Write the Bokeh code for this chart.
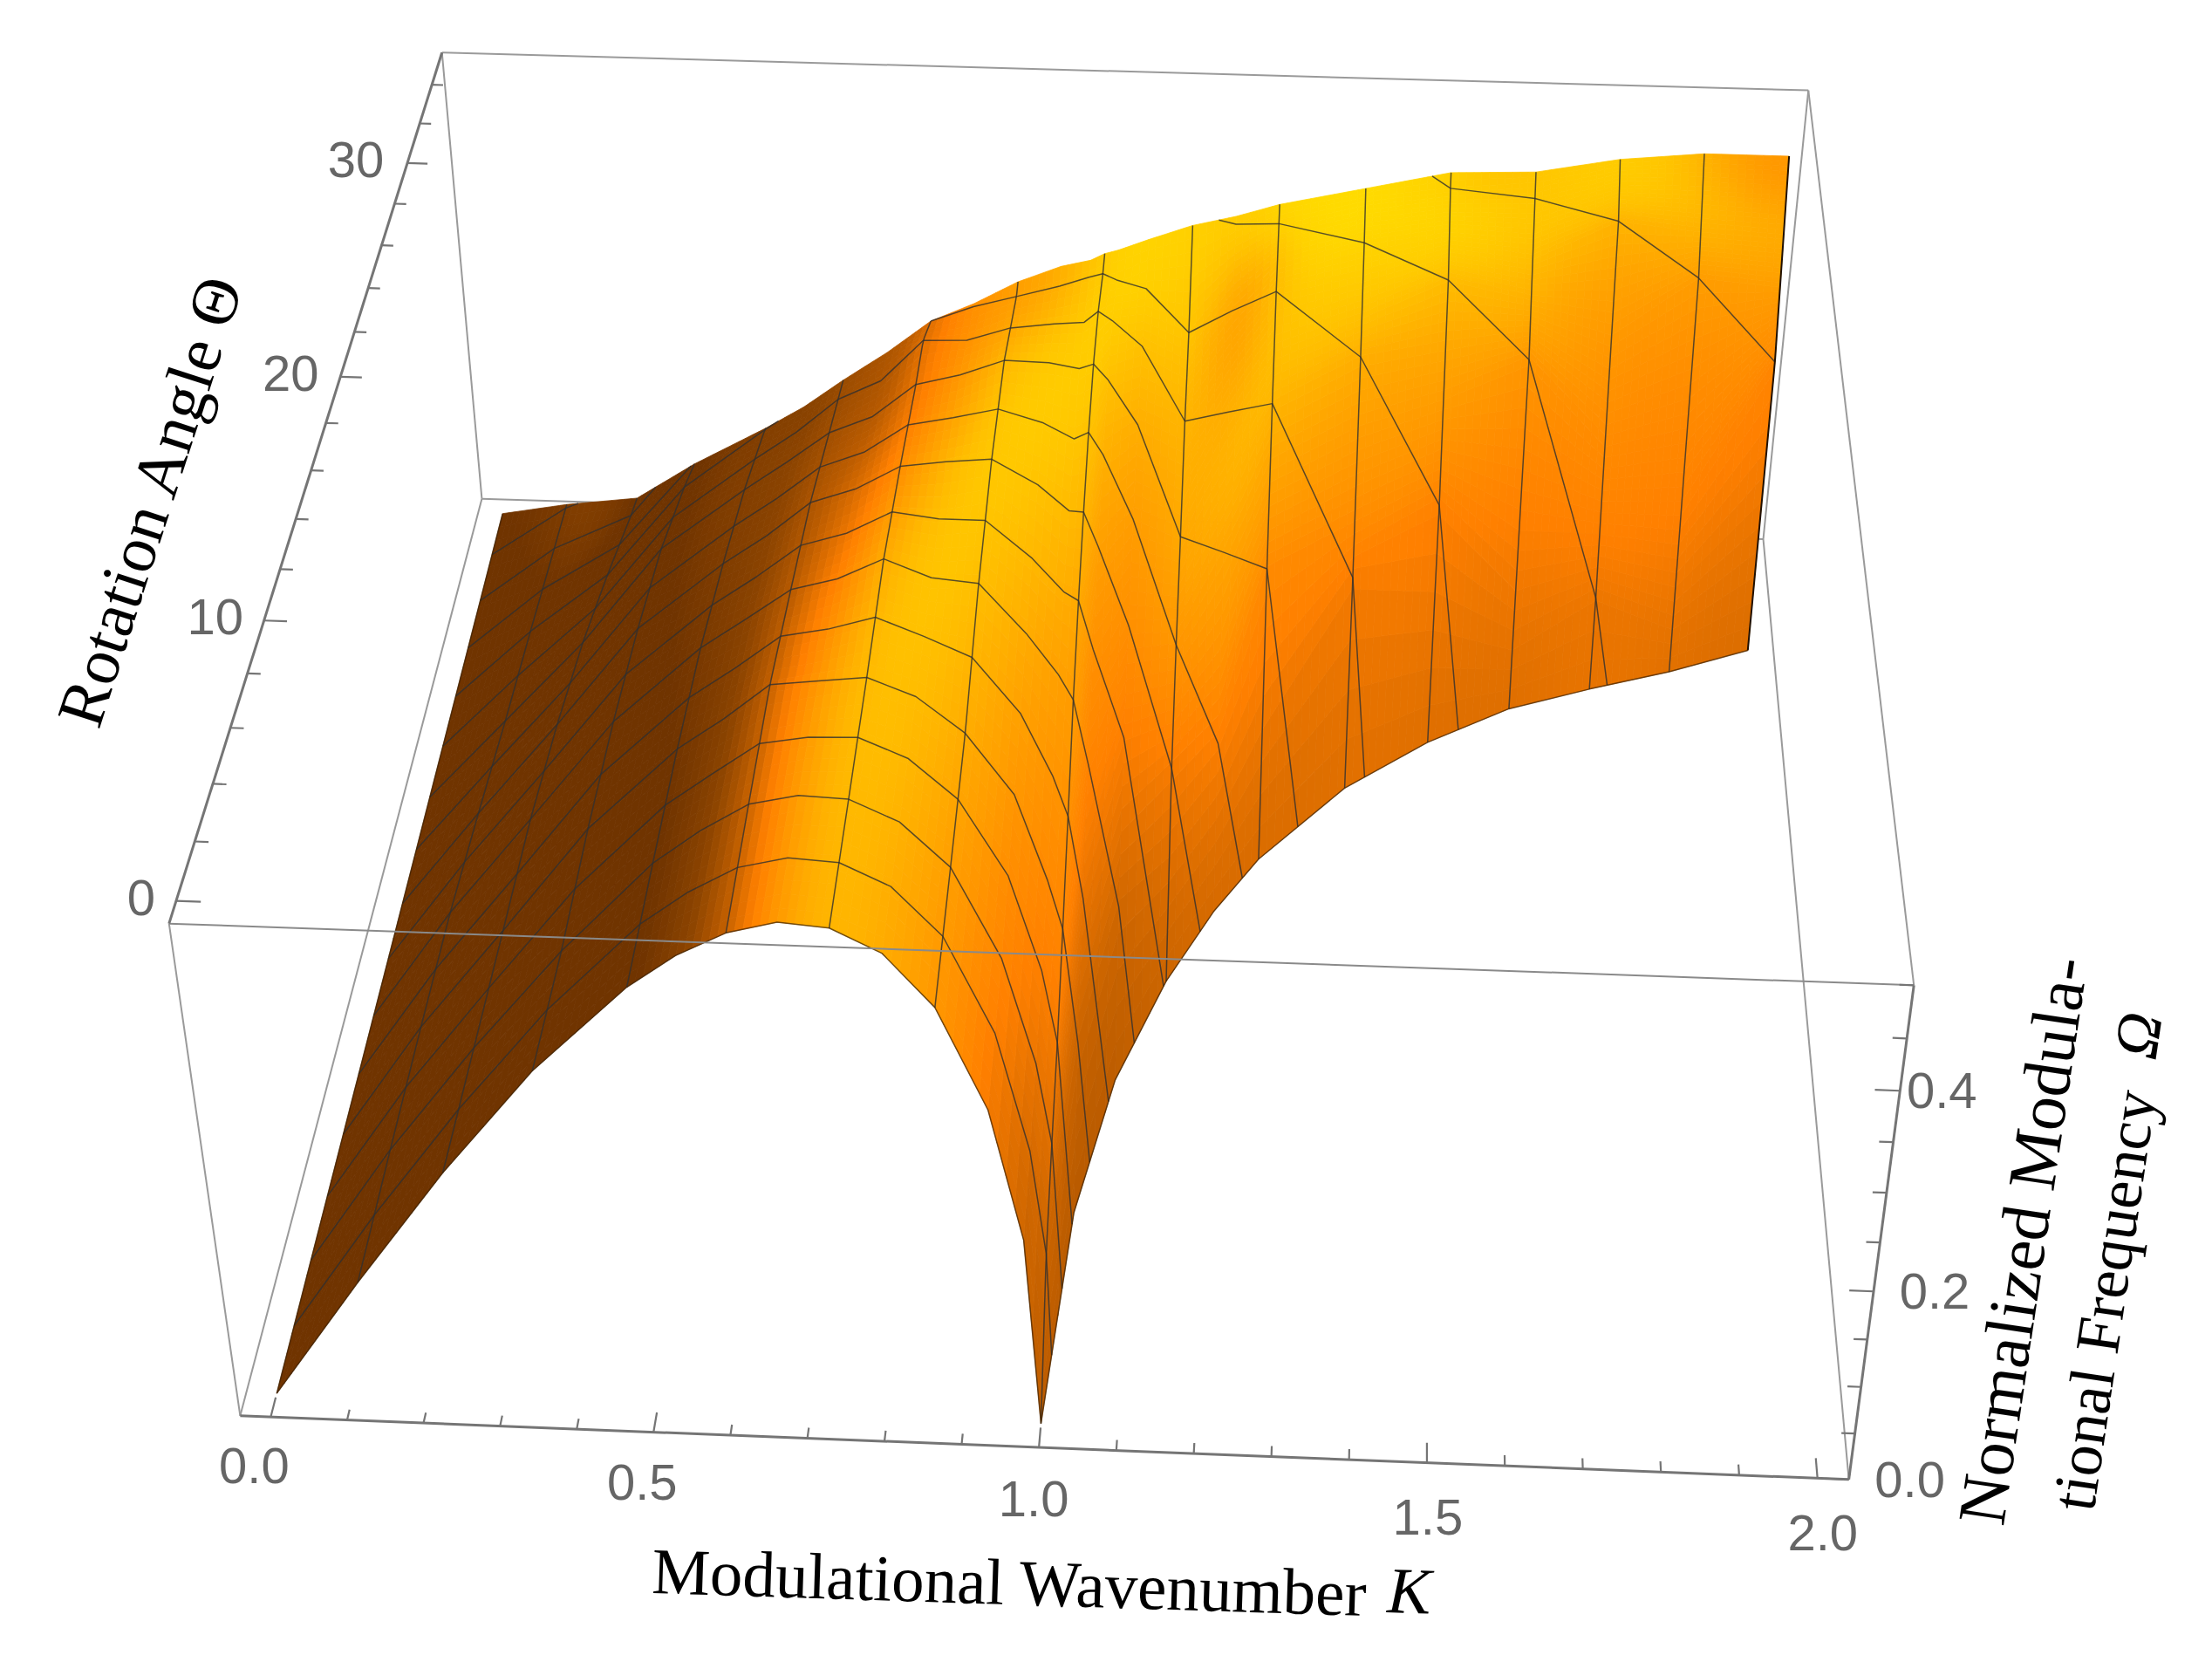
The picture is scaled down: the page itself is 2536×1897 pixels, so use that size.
from bokeh.plotting import figure
from bokeh.embed import file_html
from bokeh.resources import INLINE
from bokeh.core.properties import value
import numpy as np
import math

# surface: normalized frequency for each wavenumber and rotation angle
K_NODES = [0, 0.125, 0.25, 0.375, 0.5, 0.5625, 0.625, 0.6875, 0.75, 0.8125, 0.875, 0.9375, 0.98, 1.0,
           1.02, 1.0625, 1.125, 1.1875, 1.25, 1.375, 1.5, 1.625, 1.75, 1.875, 2.0]
THETA_LOW = [0, 0, 0, 0, 0, 0, 0, 0, 0, 0, 0, 0, 0, 0,
             7.0, 11.8, 15.6, 18.4, 20.6, 23.7, 25.8, 27.4, 28.4, 29.3, 30.4]
THETA_TOP = [35.0, 33.2, 32.0, 28.4, 26.6, 26.0, 25.5, 26.0, 26.4, 26.6, 27.0, 27.1, 27.2, 27.3,
             27.4, 27.8, 28.3, 28.8, 29.2, 30.1, 31.0, 31.15, 31.9, 32.3, 32.3]
OMEGA_LOW = [0, 0.124, 0.242, 0.348, 0.433, 0.465, 0.488, 0.4998, 0.496, 0.474, 0.424, 0.326, 0.195, 0,
             0, 0, 0, 0, 0, 0, 0, 0, 0, 0, 0]
OMEGA_TOP = [0, 0.057, 0.096, 0.223, 0.307, 0.345, 0.386, 0.405, 0.43, 0.445, 0.46, 0.475, 0.48, 0.485,
             0.487, 0.49, 0.495, 0.495, 0.5, 0.5, 0.5, 0.5, 0.5, 0.5, 0.5]
THETA_LEVELS = [2.2, 4.4, 6.6, 8.8, 11.0, 13.2, 15.4, 17.6, 19.8, 22.0, 24.2, 26.4, 28.6, 30.8, 33.0]
_ = None
OMEGA_GRID = [
    [_, 0, _, 0, _, 0, _, 0, _, 0, _, 0, _, 0, _],
    [_, .124, _, .122, _, .118, _, .105, _, .09, _, .078, _, .064, _],
    [_, .235, _, .228, _, .222, _, .205, _, .18, _, .145, _, .105, _],
    [_, .337, _, .336, _, .327, _, .31, _, .285, _, .245, _, _, _],
    [_, .427, _, .419, _, .405, _, .38, _, .35, _, .31, _, _, _],
    [_, .46, _, .45, _, .435, _, .41, _, .38, .36, _, _, _, _],
    [_, .487, _, .485, _, .466, _, .445, _, .412, _, _, _, _, _],
    [_, .497, _, .49, _, .478, _, .46, _, .43, _, _, _, _, _],
    [_, .495, _, .495, _, .499, _, .484, _, .464, .459, _, _, _, _],
    [_, .475, _, .478, _, .482, _, .49, _, .475, _, _, _, _, _],
    [_, .433, _, .444, _, .478, _, .494, _, .491, _, .458, _, _, _],
    [_, .345, _, .385, _, .43, _, .47, _, .49, _, .47, _, _, _],
    [_, .24, _, .30, _, .39, _, .445, _, .485, _, .48, _, _, _],
    [.11, .157, .196, .25, .305, .365, .409, .444, .472, .49, .494, .484, _, _, _],
    [_, _, _, .13, .22, .30, .36, .41, .45, .475, .485, .478, _, _, _],
    [_, _, _, _, _, .15, .27, .33, .385, .43, .46, .47, _, _, _],
    [_, _, _, _, _, _, _, .18, .255, .315, .384, .426, _, _, _],
    [_, _, _, _, _, _, _, _, .15, .30, .395, .45, _, _, _],
    [_, _, _, _, _, _, _, _, _, .284, .405, .471, .493, _, _],
    [_, _, _, _, _, _, _, _, _, _, .223, .406, .476, _, _],
    [_, _, _, _, _, _, _, _, _, _, _, .251, .44, .488, _],
    [_, _, _, _, _, _, _, _, _, _, _, _, .359, .48, _],
    [_, _, _, _, _, _, _, _, _, _, _, _, .10, .459, _],
    [_, _, _, _, _, _, _, _, _, _, _, _, _, .402, _],
    [_, _, _, _, _, _, _, _, _, _, _, _, _, .315, _],
]

K_RANGE = (-0.04, 2.04)
OMEGA_RANGE = (0.0, 0.5)
THETA_RANGE = (-0.75, 35.7)
K_LABELS = ["0.0", "0.5", "1.0", "1.5", "2.0"]
OMEGA_LABELS = ["0.0", "0.2", "0.4"]
THETA_LABELS = ["0", "10", "20", "30"]

# where the box sits in the picture, used to solve the perspective camera
CAM_WORLD = [(K_RANGE[a], OMEGA_RANGE[b], THETA_RANGE[c]) for a, b, c in
             [(0, 0, 0), (1, 0, 0), (1, 1, 0), (0, 1, 0), (0, 0, 1), (1, 0, 1), (1, 1, 1), (0, 1, 1)]]
CAM_WORLD += [(K_RANGE[0], 0.5, 0), (K_RANGE[0], 0.5, 10), (K_RANGE[0], 0.5, 20), (K_RANGE[0], 0.5, 30),
              (0.5, 0, THETA_RANGE[0]), (1.0, 0, THETA_RANGE[0]), (1.5, 0, THETA_RANGE[0]),
              (K_RANGE[1], 0.2, THETA_RANGE[0]), (K_RANGE[1], 0.4, THETA_RANGE[0])]
CAM_PIXEL = [(274, 1622), (2119, 1696), (2194, 1129), (194, 1057), (552, 571), (2021, 617), (2073, 103), (506, 60),
             (201, 1032), (302, 710), (389, 432), (467, 187),
             (750, 1643), (1192, 1658), (1634, 1675), (2147, 1480), (2178, 1250)]


def solve_camera():
    rows = []
    for (k, o, t), (x, y) in zip(CAM_WORLD, CAM_PIXEL):
        w = [k, o * 4, t / 18, 1]
        x, y = x / 1000, y / 1000
        rows.append(w + [0, 0, 0, 0] + [-x * c for c in w])
        rows.append([0, 0, 0, 0] + w + [-y * c for c in w])
    m = np.linalg.svd(np.array(rows))[2][-1].reshape(3, 4)
    m[:2] *= 1000
    m[:, 1] *= 4
    m[:, 2] /= 18
    return m


CAM = solve_camera()


def project(k, o, t):
    k, o, t = np.asarray(k, float), np.asarray(o, float), np.asarray(t, float)
    h = [CAM[i, 0] * k + CAM[i, 1] * o + CAM[i, 2] * t + CAM[i, 3] for i in range(3)]
    return h[0] / h[2], h[1] / h[2], np.abs(h[2])


def column(i):
    ts = [THETA_LOW[i]]
    os_ = [OMEGA_LOW[i]]
    for lev, val in zip(THETA_LEVELS, OMEGA_GRID[i]):
        if val is not None and THETA_LOW[i] < lev < THETA_TOP[i]:
            ts.append(lev)
            os_.append(val)
    ts.append(THETA_TOP[i])
    os_.append(OMEGA_TOP[i])
    return np.array(ts), np.array(os_)


COLS = [column(i) for i in range(len(K_NODES))]
S = np.linspace(0, 1, 55)

# fine grid for the shading
Kf, Tf, Of = [], [], []
for i in range(len(K_NODES) - 1):
    n = max(2, int(math.ceil((K_NODES[i + 1] - K_NODES[i]) / 0.012)))
    ta = THETA_LOW[i] + S * (THETA_TOP[i] - THETA_LOW[i])
    tb = THETA_LOW[i + 1] + S * (THETA_TOP[i + 1] - THETA_LOW[i + 1])
    oa = np.interp(ta, *COLS[i])
    ob = np.interp(tb, *COLS[i + 1])
    for f in np.linspace(0, 1, n, endpoint=(i == len(K_NODES) - 2)):
        Kf.append(np.full_like(S, K_NODES[i] + f * (K_NODES[i + 1] - K_NODES[i])))
        Tf.append(ta + f * (tb - ta))
        Of.append(oa + f * (ob - oa))
Kf, Tf, Of = np.array(Kf), np.array(Tf), np.array(Of)


def smooth(t, passes):
    for _i in range(passes):
        e = np.pad(t, 1, mode="edge")
        t = (e[:-2, 1:-1] + e[2:, 1:-1] + e[1:-1, :-2] + e[1:-1, 2:] + 4 * t) / 8
    return t


def shade():
    W = (Tf - THETA_RANGE[0]) / 36.45
    V = Of / 0.5
    P = np.stack([(Kf - K_RANGE[0]) / 2.08, V * 0.25, W], axis=-1)
    n = np.cross(np.gradient(P, axis=0), np.gradient(P, axis=1))
    n /= np.linalg.norm(n, axis=-1, keepdims=True) + 1e-12
    n *= np.where(n[..., 1:2] < 0, -1, 1)
    nu, nv = smooth(n[..., 0], 80), smooth(n[..., 1], 80)
    dark_side = 0.75 * nv + 1.2 * np.minimum(nu, 0) + 0.35 * (V - 0.6) + 0.25 * (W - 0.6)
    lit_side = 0.42 + 0.45 * nv + 0.15 * (V - 0.6) + 0.2 * (W - 0.6)
    b = np.clip(nu / 0.15, 0, 1)
    return smooth(dark_side * (1 - b) + lit_side * b, 30)


RAMP_T = [0.0, 0.2, 0.36, 0.52, 0.72, 0.88, 1.0]
RAMP_R = [0x70, 0x8c, 0xbb, 0xff, 0xff, 0xff, 0xff]
RAMP_G = [0x34, 0x44, 0x5c, 0x80, 0xa8, 0xcc, 0xe8]
RAMP_B = [0, 0, 0, 0, 0, 0, 0]

T = shade()
X, Y, D = project(Kf, Of, Tf)
xs, ys, cols, depth = [], [], [], []
for i in range(X.shape[0] - 1):
    for j in range(X.shape[1] - 1):
        xs.append([X[i, j], X[i + 1, j], X[i + 1, j + 1], X[i, j + 1]])
        ys.append([Y[i, j], Y[i + 1, j], Y[i + 1, j + 1], Y[i, j + 1]])
        c = (T[i, j] + T[i + 1, j] + T[i + 1, j + 1] + T[i, j + 1]) / 4
        cols.append("#%02x%02x%02x" % (int(np.interp(c, RAMP_T, RAMP_R)), int(np.interp(c, RAMP_T, RAMP_G)),
                                       int(np.interp(c, RAMP_T, RAMP_B))))
        depth.append(D[i, j])
order = np.argsort(depth)[::-1]
xs = [xs[i] for i in order]
ys = [ys[i] for i in order]
cols = [cols[i] for i in order]

p = figure(width=2520, height=1881, x_range=(0, 2520), y_range=(1881, 0), output_backend="svg",
           toolbar_location=None, min_border=0)
p.axis.visible = False
p.grid.visible = False
p.outline_line_color = None

k0, k1 = K_RANGE
o0, o1 = OMEGA_RANGE
t0, t1 = THETA_RANGE


def edge(a, b, color, width):
    x, y, _d = project([a[0], b[0]], [a[1], b[1]], [a[2], b[2]])
    p.line(list(x), list(y), line_color=color, line_width=width)


# box edges behind the surface
BOX = "#9a9a9a"
for a, b in [((k0, o0, t0), (k0, o0, t1)), ((k1, o0, t0), (k1, o0, t1)), ((k0, o0, t1), (k1, o0, t1)),
             ((k0, o0, t1), (k0, o1, t1)), ((k1, o0, t1), (k1, o1, t1)), ((k0, o1, t1), (k1, o1, t1)),
             ((k1, o1, t0), (k1, o1, t1)), ((k0, o0, t0), (k0, o1, t0))]:
    edge(a, b, BOX, 2)

p.patches(xs, ys, fill_color=cols, line_color=cols, line_width=0.8)

# mesh lines: constant K
mx, my = [], []
for i, k in enumerate(K_NODES):
    if 0 < k < 2 and abs(k / 0.125 - round(k / 0.125)) < 1e-9:
        ts = THETA_LOW[i] + S * (THETA_TOP[i] - THETA_LOW[i])
        x, y, _d = project(np.full_like(ts, k), np.interp(ts, *COLS[i]), ts)
        mx.append(list(x))
        my.append(list(y))

# mesh lines: constant Theta
for lev in THETA_LEVELS:
    seg = []
    for i in range(len(K_NODES) - 1):
        in_a = THETA_LOW[i] <= lev <= THETA_TOP[i]
        in_b = THETA_LOW[i + 1] <= lev <= THETA_TOP[i + 1]
        if in_a:
            seg.append((K_NODES[i], np.interp(lev, *COLS[i])))
        if in_a != in_b:
            for ea, eb, oa, ob in [(THETA_LOW[i], THETA_LOW[i + 1], OMEGA_LOW[i], OMEGA_LOW[i + 1]),
                                   (THETA_TOP[i], THETA_TOP[i + 1], OMEGA_TOP[i], OMEGA_TOP[i + 1])]:
                if (ea - lev) * (eb - lev) < 0:
                    f = (lev - ea) / (eb - ea)
                    seg.append((K_NODES[i] + f * (K_NODES[i + 1] - K_NODES[i]), oa + f * (ob - oa)))
            if in_a:
                x, y, _d = project([s[0] for s in seg], [s[1] for s in seg], [lev] * len(seg))
                mx.append(list(x))
                my.append(list(y))
                seg = []
    if THETA_LOW[-1] <= lev <= THETA_TOP[-1]:
        seg.append((K_NODES[-1], np.interp(lev, *COLS[-1])))
    if len(seg) > 1:
        x, y, _d = project([s[0] for s in seg], [s[1] for s in seg], [lev] * len(seg))
        mx.append(list(x))
        my.append(list(y))
p.multi_line(mx, my, line_color="#2f2f2f", line_width=1.5, line_alpha=0.8)

# surface outline
bx, by, _d = project(K_NODES, OMEGA_LOW, THETA_LOW)
p.line(list(bx), list(by), line_color="#3a2000", line_width=1.5, line_alpha=0.7)
rt = THETA_LOW[-1] + S * (THETA_TOP[-1] - THETA_LOW[-1])
rx, ry, _d = project(np.full_like(rt, K_NODES[-1]), np.interp(rt, *COLS[-1]), rt)
p.line(list(rx), list(ry), line_color="#201000", line_width=2)
lt = THETA_LOW[0] + S * (THETA_TOP[0] - THETA_LOW[0])
lx, ly, _d = project(np.full_like(lt, K_NODES[0]), np.interp(lt, *COLS[0]), lt)
p.line(list(lx), list(ly), line_color="#3a2000", line_width=1.5, line_alpha=0.7)

# box edges in front of the surface
edge((k0, o1, t0), (k1, o1, t0), "#8a8a8a", 2)
AXIS = "#757575"
edge((k0, o0, t0), (k1, o0, t0), AXIS, 3)
edge((k1, o0, t0), (k1, o1, t0), AXIS, 3)
edge((k0, o1, t0), (k0, o1, t1), AXIS, 3)

# ticks
tx, ty = [], []
for m in range(0, 21):
    v = m / 10
    d = 0.62 if m % 5 == 0 else 0.33
    x, y, _d = project([v, v], [o0, o0], [t0, t0 + d])
    tx.append(list(x))
    ty.append(list(y))
for m in range(0, 11):
    v = m / 20
    d = 0.03 if m % 4 == 0 else 0.017
    x, y, _d = project([k1, k1 - d], [v, v], [t0, t0])
    tx.append(list(x))
    ty.append(list(y))
for m in range(0, 18):
    v = m * 2
    d = 0.03 if m % 5 == 0 else 0.017
    x, y, _d = project([k0, k0 + d], [o1, o1], [v, v])
    tx.append(list(x))
    ty.append(list(y))
p.multi_line(tx, ty, line_color=AXIS, line_width=2.2)


def tick_text(x, y, labels):
    p.text(list(x), list(y), text=labels, text_font=value("Liberation Sans"), text_font_size="58px",
           text_color="#666666", text_align="center", text_baseline="middle")


kv = [float(s) for s in K_LABELS]
x, y, _d = project(kv, [o0] * 5, [t0] * 5)
tick_text(x + np.array([-19, -13, -6, 1, 6]), y + np.array([56, 57, 59, 62, 63]), K_LABELS)
ov = [float(s) for s in OMEGA_LABELS]
x, y, _d = project([k1] * 3, ov, [t0] * 3)
tick_text(x + np.array([70, 70, 48]), y, OMEGA_LABELS)
tv = [float(s) for s in THETA_LABELS]
x, y, _d = project([k0] * 4, [o1] * 4, tv)
tick_text(x + np.array([-40, -56, -57, -59]), y - 4, THETA_LABELS)


def title(x, y, label, angle, italic=False, size="74px"):
    p.text([x], [y], text=[label], text_font=value("Liberation Serif"), text_font_size=size,
           text_font_style="italic" if italic else "normal", text_color="#000000", angle=math.radians(angle),
           text_align="left", text_baseline="alphabetic")


title(747, 1800, "Modulational Wavenumber", -1.83, size="75px")
title(1590, 1822, "K", -1.83, italic=True, size="75px")
title(88, 829, "Rotation Angle Θ", 72, size="76px")
title(2270, 1746, "Normalized Modula-", 81.5, size="78px")
title(2376, 1730, "tional Frequency", 81.5, size="72px")
title(2447, 1212, "Ω", 81.5, italic=True, size="72px")

open("out.html", "w").write(file_html(p, INLINE))
